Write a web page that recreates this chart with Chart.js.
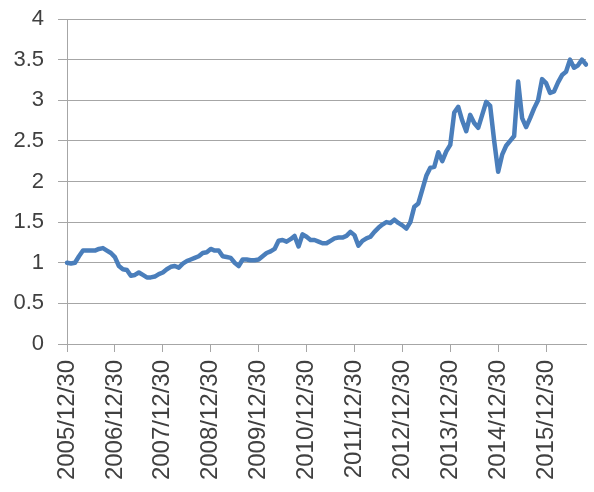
<!DOCTYPE html>
<html>
<head>
<meta charset="utf-8">
<script src="https://cdn.jsdelivr.net/npm/chart.js@4"></script>
<style>
    body { margin: 0; background: #fff; }
    canvas { display: block; }
</style>
</head>
<body>
<canvas id="chart1" width="594" height="492"></canvas>
<script>
const tickLabels = ["2005/12/30", "2006/12/30", "2007/12/30", "2008/12/30", "2009/12/30",
    "2010/12/30", "2011/12/30", "2012/12/30", "2013/12/30", "2014/12/30", "2015/12/30"];

// monthly values, 2005/12 .. 2016/10
const values = [
    1.00, 0.99, 1.00, 1.08, 1.15, 1.15, 1.15, 1.15, 1.17, 1.18, 1.15, 1.12,
    1.07, 0.96, 0.92, 0.91, 0.84, 0.85, 0.88, 0.85, 0.82, 0.82, 0.83, 0.86,
    0.88, 0.92, 0.95, 0.96, 0.94, 0.99, 1.02, 1.04, 1.06, 1.08, 1.12, 1.13,
    1.17, 1.15, 1.15, 1.08, 1.07, 1.06, 1.00, 0.96, 1.04, 1.04, 1.03, 1.03,
    1.04, 1.08, 1.12, 1.14, 1.17, 1.27, 1.28, 1.26, 1.29, 1.33, 1.20, 1.35,
    1.32, 1.28, 1.28, 1.26, 1.24, 1.24, 1.27, 1.30, 1.31, 1.31, 1.33, 1.38,
    1.34, 1.21, 1.27, 1.30, 1.32, 1.38, 1.43, 1.47, 1.50, 1.49, 1.53, 1.49,
    1.46, 1.42, 1.50, 1.69, 1.73, 1.90, 2.07, 2.17, 2.18, 2.36, 2.25, 2.37,
    2.45, 2.85, 2.92, 2.75, 2.62, 2.82, 2.72, 2.66, 2.82, 2.98, 2.93, 2.50,
    2.12, 2.33, 2.44, 2.50, 2.56, 3.23, 2.78, 2.67, 2.78, 2.90, 3.00, 3.26,
    3.21, 3.09, 3.11, 3.22, 3.31, 3.35, 3.50, 3.40, 3.43, 3.50, 3.44
];

// month-end category labels starting 2005/12
const categories = [];
for (let i = 0; i < values.length; i++) {
    const y = 2005 + Math.floor((11 + i) / 12);
    const m = (11 + i) % 12 + 1;
    const d = m === 2 ? 28 : 30;
    categories.push(y + "/" + String(m).padStart(2, "0") + "/" + d);
}

const fontFamily = "'Liberation Sans', Arial, sans-serif";
const gridColor = '#a6a6a6';

new Chart(document.getElementById("chart1"), {
    type: 'line',
    data: {
        labels: categories,
        datasets: [{
            data: values,
            borderColor: 'rgb(74,126,187)',
            borderWidth: 4.5,
            pointRadius: 0,
            tension: 0,
            borderJoinStyle: 'round',
            borderCapStyle: 'round'
        }]
    },
    options: {
        responsive: false,
        animation: false,
        devicePixelRatio: 1,
        layout: {
            padding: { top: 19, right: 8, left: 0, bottom: 0 }
        },
        plugins: {
            legend: { display: false },
            tooltip: { enabled: false }
        },
        scales: {
            x: {
                offset: false,
                grid: {
                    drawOnChartArea: false,
                    drawTicks: true,
                    tickLength: 8,
                    color: gridColor
                },
                border: { color: gridColor },
                ticks: {
                    autoSkip: false,
                    maxRotation: 90,
                    minRotation: 90,
                    padding: 8,
                    color: '#404040',
                    font: { family: fontFamily, size: 24 },
                    callback: function (value, index) {
                        return index % 12 === 0 ? tickLabels[index / 12] : null;
                    }
                },
                afterFit: function (scale) {
                    scale.height = 148;
                    scale.paddingLeft = 0;
                    scale.paddingRight = 0;
                }
            },
            y: {
                min: 0,
                max: 4,
                grid: {
                    color: gridColor,
                    tickLength: 9
                },
                border: { color: gridColor },
                ticks: {
                    stepSize: 0.5,
                    padding: 14,
                    color: '#404040',
                    font: { family: fontFamily, size: 22 },
                    callback: function (value) {
                        return String(value);
                    }
                },
                afterFit: function (scale) {
                    scale.width = 67;
                    scale.paddingTop = 0;
                    scale.paddingBottom = 0;
                }
            }
        }
    }
});
</script>
</body>
</html>
